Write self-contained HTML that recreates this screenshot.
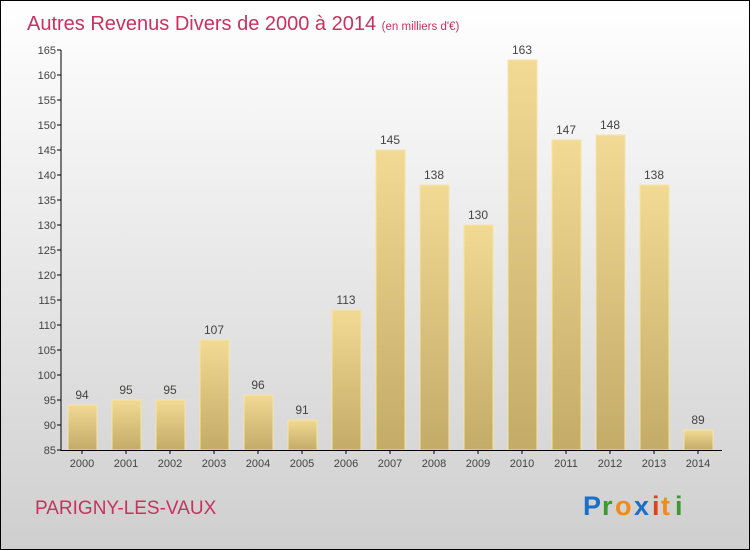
<!DOCTYPE html>
<html><head><meta charset="utf-8"><style>
body{margin:0}
#c{width:748px;height:548px;border:1px solid #000;background:linear-gradient(#ffffff,#cfcfcf);position:relative;font-family:"Liberation Sans",sans-serif;overflow:hidden}
</style></head><body>
<div id="c">
<svg width="748" height="548" id="s">
<defs><linearGradient id="g" x1="0" y1="0" x2="0" y2="1"><stop offset="0" stop-color="#f2da94"/><stop offset="1" stop-color="#c3ab68"/></linearGradient></defs>
<text x="26" y="29" font-size="20" fill="#c8325e">Autres Revenus Divers de 2000 à 2014 <tspan font-size="11.5">(en milliers d'€)</tspan></text>
<text x="34" y="513" font-size="19" fill="#c8325e">PARIGNY-LES-VAUX</text>
<g font-size="27" font-weight="bold" font-family="'Liberation Sans',sans-serif">
<text x="582" y="514" fill="#1a6fc8">P</text><text x="601" y="514" fill="#3a9a30">r</text><text x="614" y="514" fill="#f08a1a">o</text><text x="633" y="514" fill="#1a6fc8">x</text><text x="651" y="514" fill="#e0401a">i</text><text x="660" y="514" fill="#f08a1a">t</text><text x="674" y="514" fill="#3a9a30">i</text></g>
<g id="plot"></g>
</svg></div>
<script>
const years=["2000","2001","2002","2003","2004","2005","2006","2007","2008","2009","2010","2011","2012","2013","2014"];
const values=[94,95,95,107,96,91,113,145,138,130,163,147,148,138,89];
const yTicks=[85,90,95,100,105,110,115,120,125,130,135,140,145,150,155,160,165];
const NS="http://www.w3.org/2000/svg";
const p=document.getElementById('plot');
const y=v=>449-(v-85)*5;
const x=i=>81+i*44;
function mk(t,a){const e=document.createElementNS(NS,t);for(const k in a)e.setAttribute(k,a[k]);p.appendChild(e);return e;}
yTicks.forEach(v=>{
 const l=mk('line',{x1:56,x2:60,y1:y(v),y2:y(v),stroke:'#000'});
 
 
 const t=mk('text',{x:55,y:y(v)+4,'text-anchor':'end','font-size':11,fill:'#444'});t.textContent=v;
 
 
});
values.forEach((v,i)=>{
 const r=mk('rect',{x:x(i)-14,y:y(v),width:29,height:449-y(v),fill:'url(#g)',stroke:'#f6e4a8','stroke-width':1});
 
 
 const t=mk('text',{x:x(i),y:y(v)-6,'text-anchor':'middle','font-size':12,fill:'#444'});t.textContent=v;
 
 
 const tk=mk('line',{x1:x(i),x2:x(i),y1:449,y2:453,stroke:'#000'});
 
 
 const xl=mk('text',{x:x(i),y:466,'text-anchor':'middle','font-size':11,fill:'#444'});xl.textContent=years[i];
 
 
});
const ya=mk('line',{x1:60,x2:60,y1:y(165),y2:450,stroke:'#000'});


const xa=mk('line',{x1:60,x2:721,y1:449.5,y2:449.5,stroke:'#000'});


</script>
</body></html>
